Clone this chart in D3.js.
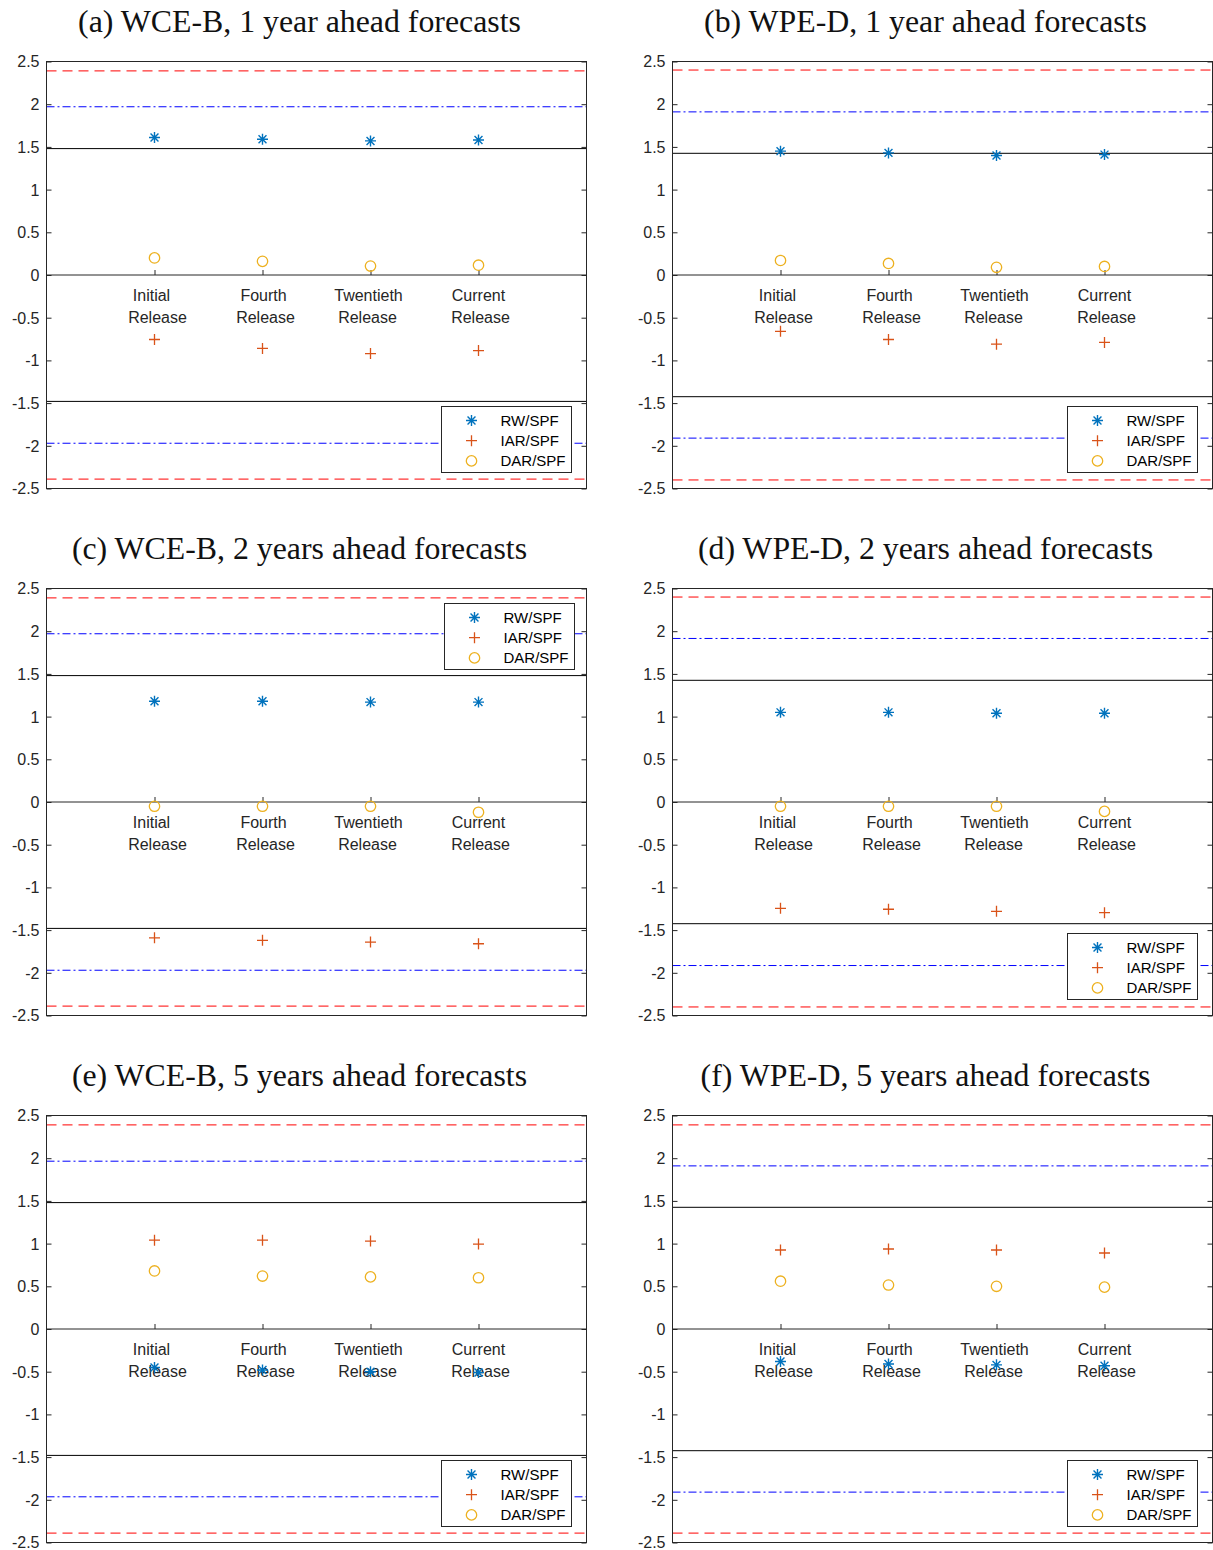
<!DOCTYPE html>
<html><head><meta charset="utf-8">
<script src="https://cdn.jsdelivr.net/npm/d3@7"></script>
<style>body{margin:0;background:#fff;} svg{display:block}</style>
</head><body>
<svg id="chart" width="1213" height="1550"></svg>
<script>
// ---------- data ----------
const panelTitles = [
  "(a) WCE-B, 1 year ahead forecasts",
  "(b) WPE-D, 1 year ahead forecasts",
  "(c) WCE-B, 2 years ahead forecasts",
  "(d) WPE-D, 2 years ahead forecasts",
  "(e) WCE-B, 5 years ahead forecasts",
  "(f) WPE-D, 5 years ahead forecasts"
];
const categories = ["Initial", "Fourth", "Twentieth", "Current"];
const categoryLine2 = ["Release", "Release", "Release", "Release"];
const categoryPos = [1, 2, 3, 4];
const yTicks = [2.5, 2, 1.5, 1, 0.5, 0, -0.5, -1, -1.5, -2, -2.5];
const seriesNames = ["RW/SPF", "IAR/SPF", "DAR/SPF"];

const rwSPF = [
  [1.61, 1.59, 1.57, 1.58],
  [1.45, 1.43, 1.40, 1.41],
  [1.18, 1.18, 1.17, 1.17],
  [1.05, 1.05, 1.04, 1.04],
  [-0.45, -0.48, -0.50, -0.51],
  [-0.38, -0.41, -0.42, -0.43]
];
const iarSPF = [
  [-0.755, -0.86, -0.92, -0.885],
  [-0.66, -0.755, -0.81, -0.79],
  [-1.59, -1.62, -1.64, -1.66],
  [-1.245, -1.256, -1.28, -1.296],
  [1.04, 1.04, 1.03, 0.995],
  [0.925, 0.937, 0.925, 0.89]
];
const darSPF = [
  [0.20, 0.16, 0.105, 0.115],
  [0.17, 0.135, 0.09, 0.10],
  [-0.05, -0.05, -0.05, -0.12],
  [-0.05, -0.05, -0.05, -0.11],
  [0.68, 0.62, 0.61, 0.60],
  [0.56, 0.515, 0.50, 0.49]
];
// critical-value bands (symmetric about zero)
const solidCV  = [1.48, 1.425, 1.48, 1.425, 1.48, 1.425];
const dashDotCV = [1.97, 1.91, 1.97, 1.915, 1.965, 1.91];
const dashedCV = [2.39, 2.40, 2.39, 2.40, 2.39, 2.39];
const legendCorner = ["br", "br", "tr", "br", "br", "br"];

// ---------- layout / style ----------
const colLeft = [46.5, 672.5];
const rowTop = [61.5, 588.5, 1115.5];
const plotW = 540, plotH = 427;
const axisColor = "#262626";
const colors = ["#0072BD", "#D95319", "#EDB120"];
const lab1dx = [-3, 1, -2, 0];
const lab2dx = [3, 3, -3, 2];

const svg = d3.select("#chart");

function drawMarker(g, type, cx, cy, color) {
  const s = 5.5;
  if (type === 0) {
    const d = s * 0.72;
    g.append("path")
      .attr("d", `M${cx - s},${cy}L${cx + s},${cy}M${cx},${cy - s}L${cx},${cy + s}` +
                 `M${cx - d},${cy - d}L${cx + d},${cy + d}M${cx - d},${cy + d}L${cx + d},${cy - d}`)
      .attr("stroke", color).attr("stroke-width", 1.4).attr("fill", "none");
  } else if (type === 1) {
    const p = 5.5;
    g.append("path")
      .attr("d", `M${cx - p},${cy}L${cx + p},${cy}M${cx},${cy - p}L${cx},${cy + p}`)
      .attr("stroke", color).attr("stroke-width", 1.3).attr("fill", "none");
  } else {
    g.append("circle").attr("cx", cx).attr("cy", cy).attr("r", 5.2)
      .attr("stroke", color).attr("stroke-width", 1.3).attr("fill", "none");
  }
}

let titleFont = null;

panelTitles.forEach((title, i) => {
  const col = i % 2, row = Math.floor(i / 2);
  const x0 = colLeft[col], y0 = rowTop[row];
  const x = d3.scaleLinear().domain([0, 5]).range([x0, x0 + plotW]);
  const y = d3.scaleLinear().domain([-2.5, 2.5]).range([y0 + plotH, y0]);
  const g = svg.append("g");

  // title
  const t = svg.append("text")
    .attr("x", x0 + plotW / 2 - 17).attr("y", y0 - 30)
    .attr("text-anchor", "middle")
    .attr("font-family", "'Liberation Serif', 'Times New Roman', serif")
    .attr("font-size", 27).attr("fill", "#111")
    .text(title);
  if (titleFont === null) {
    const w = t.node().getComputedTextLength();
    titleFont = 27 * 443 / w;
  }
  t.attr("font-size", titleFont);

  // reference lines
  const hline = (v, color, dash) => {
    g.append("line")
      .attr("x1", x0).attr("x2", x0 + plotW)
      .attr("y1", y(v)).attr("y2", y(v))
      .attr("stroke", color).attr("stroke-width", 1)
      .attr("stroke-dasharray", dash);
  };
  [1, -1].forEach(sgn => {
    hline(sgn * dashedCV[i], "#ff0000", "10,6");
    hline(sgn * dashDotCV[i], "#0000ff", "8,3,2,3");
    hline(sgn * solidCV[i], "#000", null);
  });

  // zero line (x-axis at origin) with ticks pointing up
  g.append("line").attr("x1", x0).attr("x2", x0 + plotW)
    .attr("y1", y(0)).attr("y2", y(0)).attr("stroke", axisColor).attr("stroke-width", 1);
  const xAxis = d3.axisBottom(x).tickValues(categoryPos).tickSizeInner(-5).tickSizeOuter(0).tickFormat("");
  const xa = g.append("g").attr("transform", `translate(0,${y(0)})`).call(xAxis);
  xa.select(".domain").remove();
  xa.selectAll(".tick line").attr("stroke", axisColor);

  // category labels
  categoryPos.forEach((c, k) => {
    g.append("text").attr("x", x(c) + lab1dx[k]).attr("y", y(0) + 25.5)
      .attr("text-anchor", "middle").attr("font-family", "'Liberation Sans', Arial, sans-serif")
      .attr("font-size", 16).attr("fill", axisColor).text(categories[k]);
    g.append("text").attr("x", x(c) + lab2dx[k]).attr("y", y(0) + 47.5)
      .attr("text-anchor", "middle").attr("font-family", "'Liberation Sans', Arial, sans-serif")
      .attr("font-size", 16).attr("fill", axisColor).text(categoryLine2[k]);
  });

  // data markers
  const series = [rwSPF[i], iarSPF[i], darSPF[i]];
  const mg = svg.append("g");
  series.forEach((vals, s) => {
    vals.forEach((v, k) => drawMarker(mg, s, x(categoryPos[k]), y(v), colors[s]));
  });

  // y axes (left with labels, right mirrored ticks)
  const yAxisL = d3.axisLeft(y).tickValues(yTicks).tickSizeInner(-5).tickSizeOuter(0)
    .tickPadding(7).tickFormat(d => String(d));
  const ya = svg.append("g").attr("transform", `translate(${x0},0)`).call(yAxisL);
  ya.select(".domain").remove();
  ya.selectAll(".tick line").attr("stroke", axisColor);
  ya.selectAll(".tick text").attr("font-family", "'Liberation Sans', Arial, sans-serif")
    .attr("font-size", 16).attr("fill", axisColor).attr("dy", "0.34em");
  const yAxisR = d3.axisRight(y).tickValues(yTicks).tickSizeInner(-5).tickSizeOuter(0).tickFormat("");
  const yr = svg.append("g").attr("transform", `translate(${x0 + plotW},0)`).call(yAxisR);
  yr.select(".domain").remove();
  yr.selectAll(".tick line").attr("stroke", axisColor);

  // legend
  const lw = 130, lh = 66;
  let lx, ly;
  if (legendCorner[i] === "br") { lx = x0 + plotW - 16 - lw; ly = y0 + plotH - 17 - lh; }
  else { lx = x0 + plotW - 13 - lw; ly = y0 + 14; }
  lx = Math.round(lx) + 0.5; ly = Math.round(ly) + 0.5;
  const lg = svg.append("g");
  lg.append("rect").attr("x", lx).attr("y", ly).attr("width", lw).attr("height", lh)
    .attr("fill", "#fff").attr("stroke", axisColor).attr("stroke-width", 1);
  seriesNames.forEach((nm, s) => {
    const cy = ly + 14 + s * 20.2;
    drawMarker(lg, s, lx + 30, cy, colors[s]);
    lg.append("text").attr("x", lx + 59).attr("y", cy + 5.5)
      .attr("font-family", "'Liberation Sans', Arial, sans-serif")
      .attr("font-size", 15).attr("fill", "#000").text(nm);
  });

  // box
  svg.append("rect").attr("x", x0).attr("y", y0).attr("width", plotW).attr("height", plotH)
    .attr("fill", "none").attr("stroke", axisColor).attr("stroke-width", 1);
});
</script>
</body></html>
